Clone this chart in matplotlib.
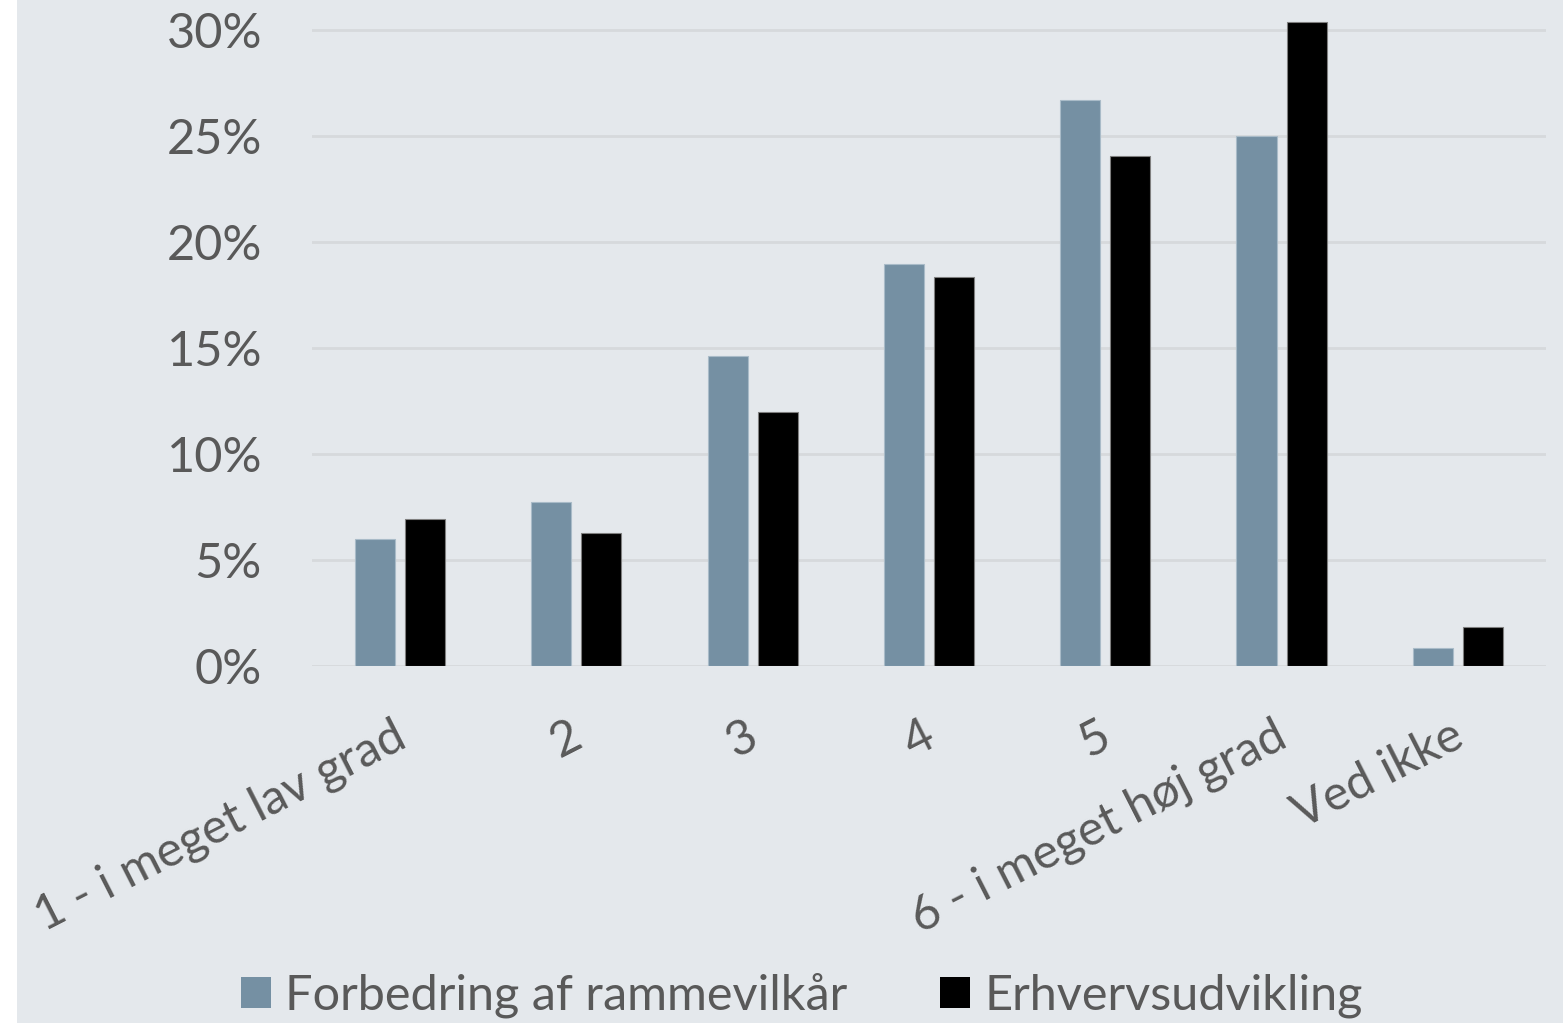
import numpy as np
import matplotlib
matplotlib.use("Agg")
import matplotlib.pyplot as plt
from matplotlib.patches import Rectangle
from matplotlib.ticker import FuncFormatter

# data (percent)
categories = ["1 - i meget lav grad", "2", "3", "4", "5", "6 - i meget høj grad", "Ved ikke"]
rammevilkaar = [6.0, 7.75, 14.65, 18.95, 26.7, 25.0, 0.85]
erhverv = [6.95, 6.3, 12.0, 18.35, 24.05, 30.4, 1.85]
series_names = ["Forbedring af rammevilkår", "Erhvervsudvikling"]

bg = "#E4E8EC"
txt = "#595959"
plt.rcParams['font.family'] = ['Lato', 'DejaVu Sans']

fig = plt.figure(figsize=(15.63, 10.23), dpi=100, facecolor="white")
# grey panel, white strip at the left edge
fig.patches.append(Rectangle((17 / 1563, 0), 1, 1, transform=fig.transFigure,
                             facecolor=bg, edgecolor="none", zorder=-10))

ax = fig.add_axes([0.1996, 0.349, 0.9891 - 0.1996, 0.991 - 0.349])
ax.set_facecolor("none")

x = np.arange(len(categories))
w = 0.227
off = 0.142
ax.bar(x - off, rammevilkaar, w, color="#7590A3", edgecolor="#A9BBC8", linewidth=0.8,
       label=series_names[0], zorder=3)
ax.bar(x + off, erhverv, w, color="black", edgecolor="#7F7F7F", linewidth=0.8,
       label=series_names[1], zorder=3)

ax.set_xlim(-0.5, len(categories) - 0.5)
ax.set_ylim(0, 31)
ax.set_yticks([0, 5, 10, 15, 20, 25, 30])
ax.yaxis.set_major_formatter(FuncFormatter(lambda v, p: f"{v:.0f}%"))
ax.grid(axis="y", color="#D6D9DC", linewidth=2, zorder=0)
for s in ax.spines.values():
    s.set_visible(False)
ax.tick_params(axis="both", length=0, labelsize=35, labelcolor=txt)
ax.tick_params(axis="y", pad=36)
ax.tick_params(axis="x", pad=34)

ax.set_xticks(x - 0.045)
ax.set_xticklabels(categories, rotation=27, ha="right", rotation_mode="anchor")

leg = fig.legend(loc="center", bbox_to_anchor=(0.513, 0.027), ncol=2, frameon=False,
                 fontsize=35, handlelength=0.62, handleheight=0.62,
                 handletextpad=0.3, columnspacing=1.9, borderaxespad=0)
for t in leg.get_texts():
    t.set_color(txt)
for h in leg.legend_handles:
    h.set_edgecolor("none")

fig.savefig("out.png", dpi=100, facecolor=fig.get_facecolor())
